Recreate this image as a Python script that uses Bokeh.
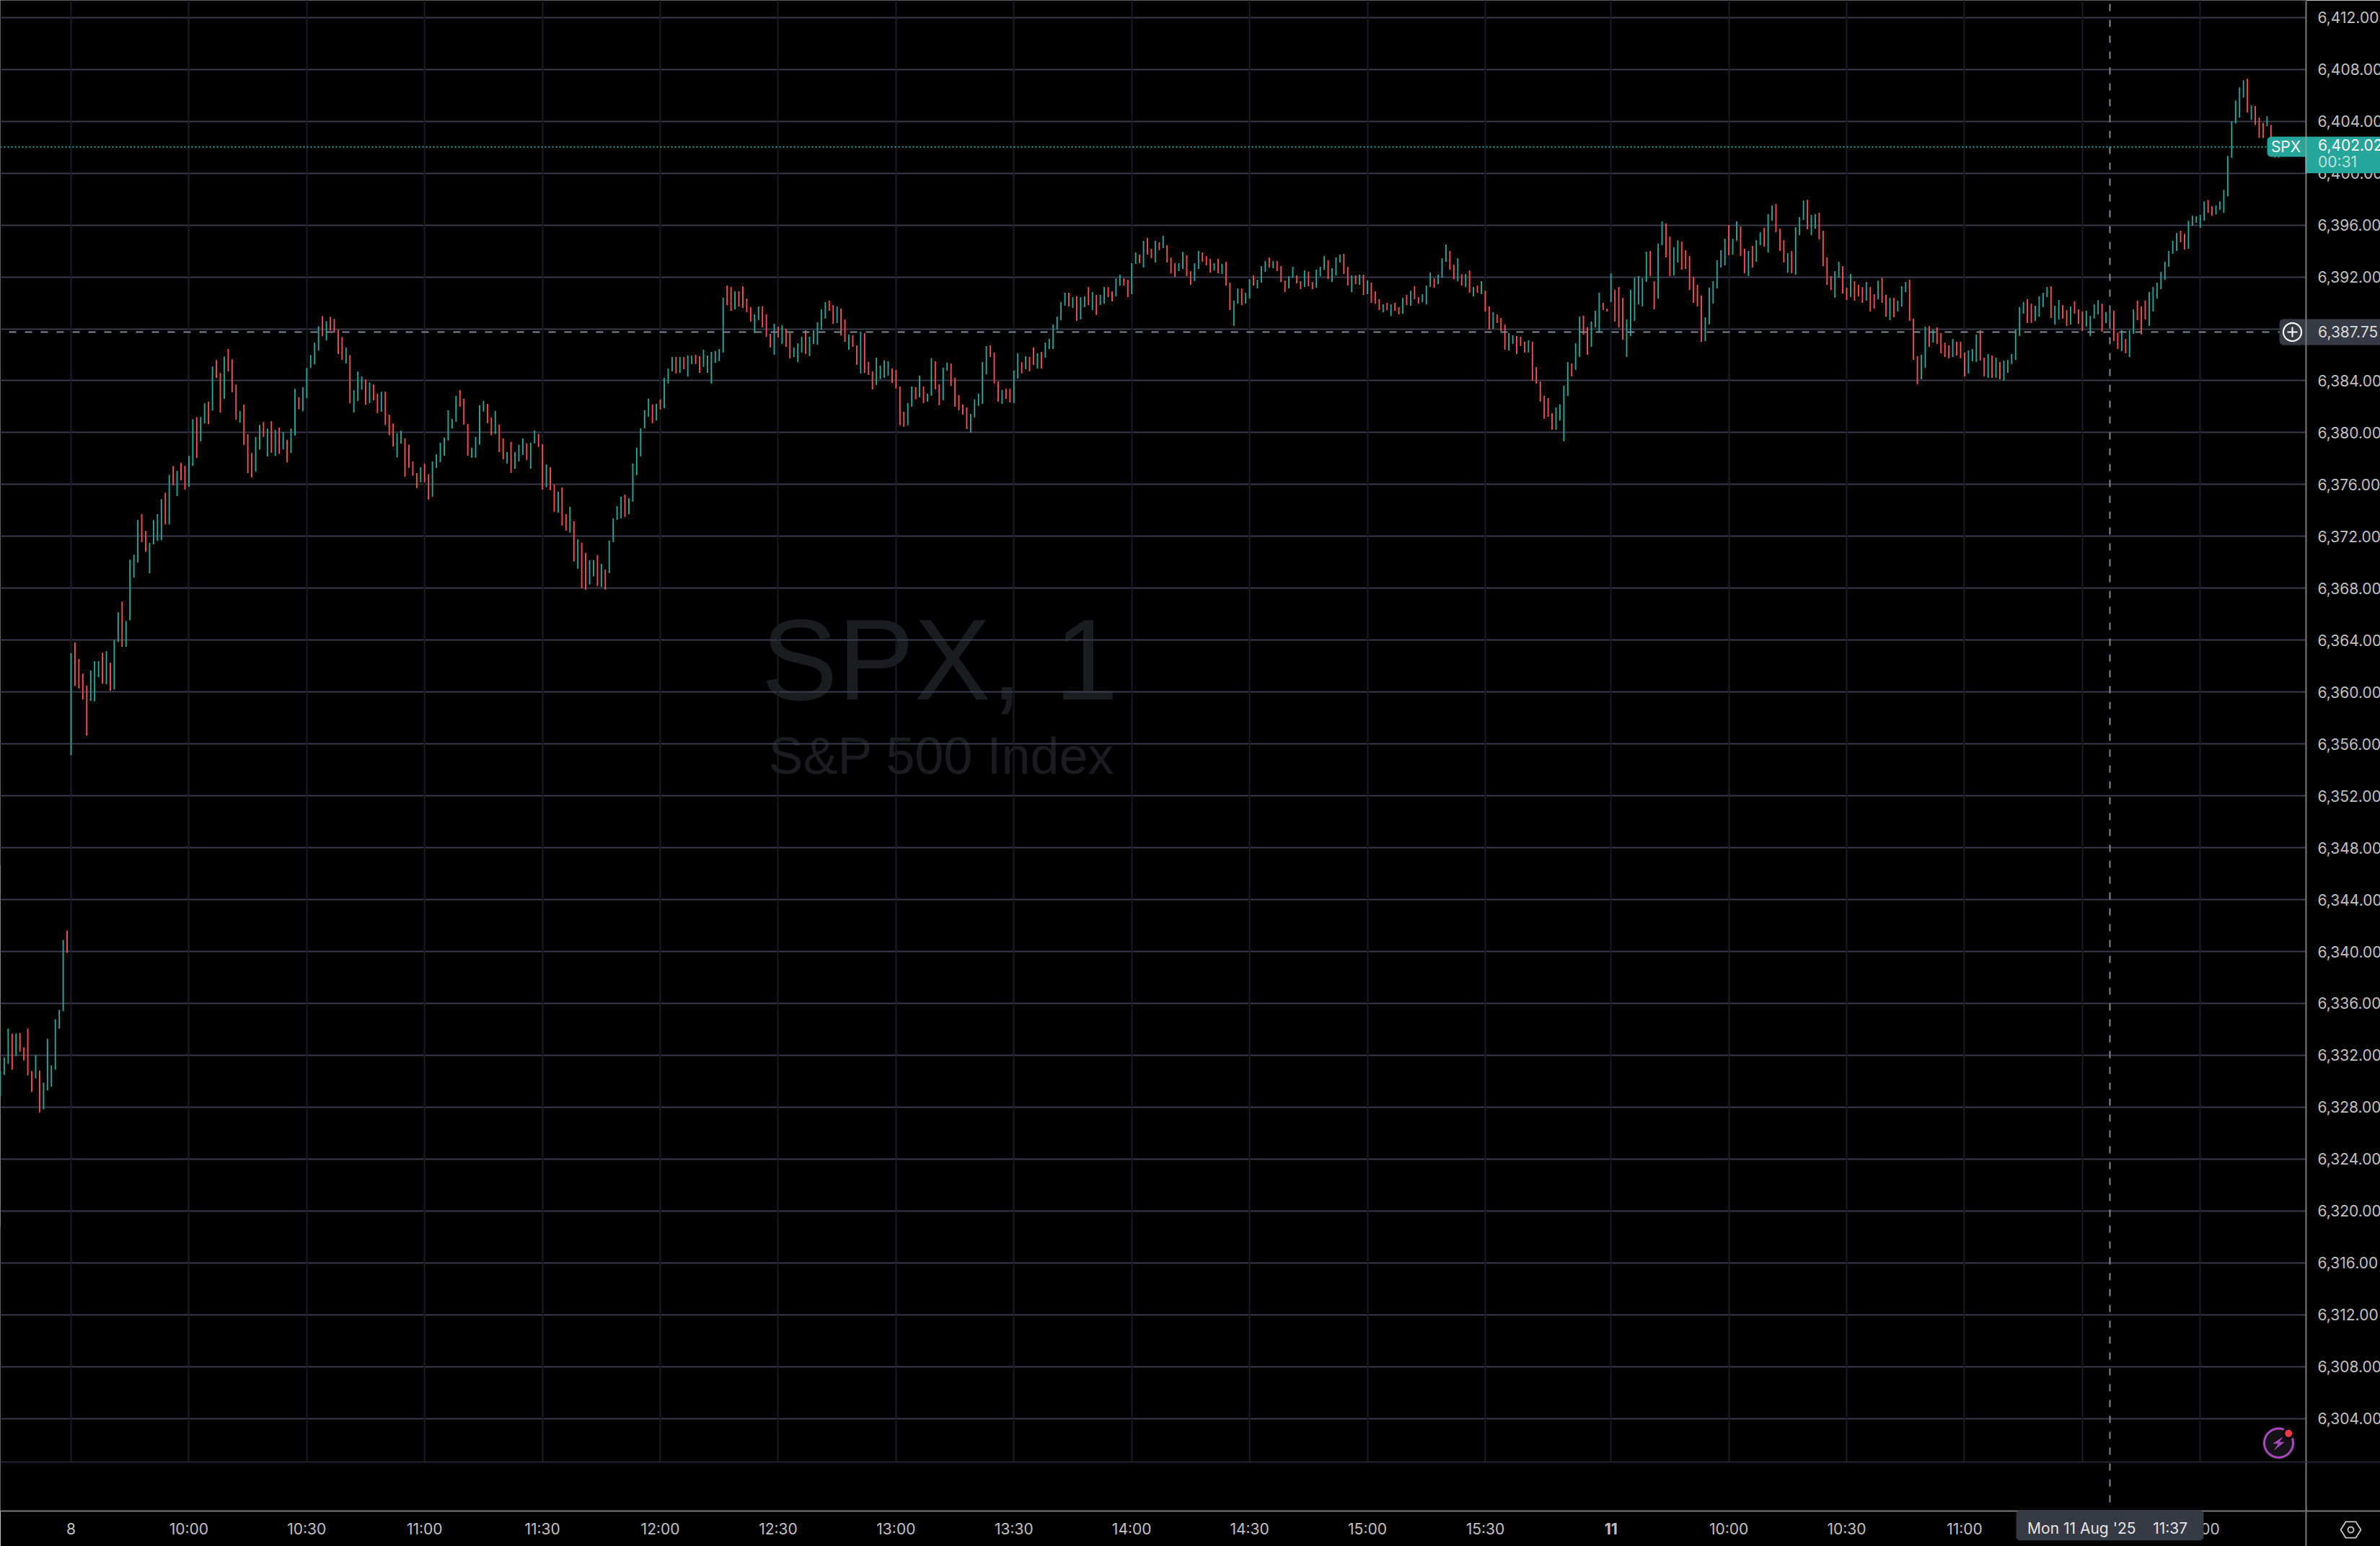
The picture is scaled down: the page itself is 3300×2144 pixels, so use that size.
import math
from bokeh.plotting import figure
from bokeh.layouts import column
from bokeh.embed import file_html
from bokeh.resources import INLINE
from bokeh.models import (ColumnDataSource, FixedTicker, Grid, Label, LinearAxis, PolyAnnotation, Range1d, Span)

FIRST_BAR = -18

high_a = [6330.78,6331.83,6334.06,6333.67,6333.67,6333.72,6332.61,6334.06,6330.78,6332.00,6330.83,6329.89,6333.28,6331.22,6334.78,6335.50,6340.89,6341.61]
low_a = [6328.83,6330.50,6331.33,6330.89,6331.94,6332.28,6331.61,6330.44,6329.17,6330.22,6327.61,6327.83,6329.28,6329.56,6330.89,6334.06,6335.39,6339.89]
dir_a = "uuududdddud" "uuuuuu" "d"

high_b = [6362.99,6363.83,6362.54,6361.42,6360.49,6361.65,6362.38,6362.38,6363.03,6363.15,
6362.26,6364.03,6366.14,6366.98,6365.48,6370.20,6370.59,6373.26,6373.71,6372.42,
6371.49,6373.26,6373.71,6374.87,6375.37,6376.75,6377.43,6377.05,6377.66,6377.43,
6378.20,6381.04,6381.20,6381.20,6382.26,6382.38,6385.10,6385.60,6384.60,6385.87,
6386.44,6385.64,6383.71,6381.65,6382.15,6379.88,6378.43,6379.66,6380.59,6380.81,
6380.31,6380.88,6380.20,6380.38,6380.04,6379.43,6380.31,6383.37,6382.72,6383.49,
6384.98,6385.98,6386.93,6388.20,6388.98,6388.59,6388.93,6388.77,6387.93,6387.37,
6386.55,6385.98,6383.26,6384.71,6384.33,6384.10,6383.87,6383.71,6382.99,6383.15,
6383.15,6381.38,6380.70,6379.93,6380.15]
low_b = [6355.14,6360.49,6360.27,6359.43,6356.64,6359.32,6359.27,6361.15,6360.65,6360.59,
6360.09,6360.20,6363.87,6363.49,6363.49,6365.53,6368.82,6369.97,6371.54,6370.81,
6369.16,6371.38,6371.65,6371.70,6372.92,6372.92,6375.94,6375.10,6376.32,6375.60,
6375.82,6377.43,6378.05,6379.32,6380.70,6380.65,6381.70,6384.21,6381.54,6382.60,
6384.71,6383.10,6380.99,6380.77,6379.04,6376.87,6376.55,6376.98,6378.70,6379.66,
6378.16,6378.43,6378.20,6378.36,6378.70,6377.71,6378.43,6379.77,6381.81,6381.65,
6382.65,6384.98,6385.26,6386.32,6387.43,6387.09,6387.86,6387.71,6386.05,6385.60,
6385.32,6382.26,6381.54,6382.42,6383.31,6382.15,6382.26,6382.49,6381.49,6381.61,
6380.59,6379.81,6378.93,6378.09,6379.16]
dir_b = "udddduuudu" "duuduuuudd" "uuuudududd" "uuduududdu" "ddduddduud" "udududuudu" "uuuududddd" "uduuududdu" "ddduu"

high_c = [6379.56,6379.06,6377.78,6376.89,6377.33,
6377.61,6376.78,6377.78,6378.33,6379.22,6379.61,6381.72,6381.06,6382.83,6383.28,
6382.61,6380.67,6378.83,6379.67,6382.11,6382.44,6382.22,6381.17,6381.67,6380.61,
6379.56,6378.50,6379.28,6378.50,6379.06,6379.56,6379.17,6379.22,6380.17,6379.89,
6379.11,6377.56,6377.33,6376.00,6375.44,6375.78,6373.72,6374.28,6373.17,6371.78,
6371.50,6370.72,6370.17,6370.17,6370.56,6369.89,6369.44,6371.67,6373.39,6374.33,
6375.06,6375.22,6374.94,6377.61,6378.83,6380.33,6381.72,6382.61,6382.17,6382.22,
6382.56,6384.22,6384.94,6385.83,6385.83,6385.83,6385.83,6385.94,6385.94,6386.00,
6385.89,6386.39,6385.94,6386.22,6386.28,6386.44]
low_c = [6376.61,6377.28,6376.67,6375.72,6376.17,
6376.17,6374.83,6375.06,6377.28,6377.72,6378.22,6379.39,6380.33,6380.83,6382.00,
6380.61,6378.22,6378.06,6378.06,6379.06,6381.61,6380.72,6379.78,6379.89,6378.50,
6377.94,6377.61,6376.89,6377.22,6377.78,6378.28,6377.89,6377.22,6379.17,6378.89,
6375.61,6375.78,6375.56,6373.89,6373.83,6372.83,6372.44,6372.28,6370.06,6369.50,
6368.00,6367.89,6368.28,6368.94,6368.17,6368.11,6367.89,6369.17,6371.56,6373.28,
6373.39,6373.50,6373.72,6374.67,6376.72,6378.17,6380.33,6381.22,6380.72,6380.94,
6381.78,6381.89,6383.78,6384.72,6384.56,6384.61,6384.89,6384.33,6385.28,6385.28,
6384.61,6385.06,6384.61,6383.78,6385.39,6385.50]
dir_c = "ddddu" "dduuuuuuud" "dduuuuddud" "duduuuduud" "duddudd" "udu" "dduududuuu" "uduuuuuudu" "duuududuud" "duuuuu"

high_d = [6390.39,6391.33,6391.22,6390.89,
6390.89,6391.28,6390.33,6389.67,6389.11,6389.72,6389.72,6389.11,6387.61,6388.39,
6388.17,6388.28,6388.00,6387.67,6386.56,6386.89,6387.39,6387.89,6387.39,6387.89,
6388.50,6389.50,6390.06,6390.17,6389.83,6389.72,6389.56,6388.72,6387.56,6387.50,
6386.72,6387.78,6387.67,6385.44,6384.72,6385.78,6385.17,6385.56,6385.50,6384.94,
6384.83,6383.56,6381.61,6382.28,6383.56,6383.50,6384.39,6383.56,6383.00,6385.72,
6385.50,6383.72,6385.00,6385.39,6385.33,6384.22,6382.89,6382.17,6381.94,6381.44,
6382.56,6383.00,6385.44,6386.67,6386.72,6386.17,6383.94,6383.28,6383.39,6383.39,
6384.78,6386.11,6385.44,6385.89,6385.83,6386.56,6386.11,6386.22,6386.94,6387.22,
6388.33,6388.94,6390.06,6390.78,6390.78,6390.44,6390.50,6390.44,6390.50,6391.22,
6390.83,6390.61,6390.61,6391.22,6391.22]
low_d = [6386.17,6389.83,6389.39,6389.50,
6389.72,6389.61,6389.28,6388.56,6387.67,6388.67,6388.11,6387.39,6386.56,6386.00,
6387.33,6386.83,6386.61,6385.72,6385.83,6385.44,6386.17,6386.06,6385.89,6386.83,
6386.78,6387.94,6388.78,6389.39,6388.39,6388.44,6387.50,6387.00,6386.39,6386.61,
6385.22,6384.56,6384.61,6384.44,6383.33,6383.67,6384.11,6384.22,6384.39,6383.83,
6383.39,6380.56,6380.44,6380.56,6382.00,6382.56,6382.72,6382.28,6382.39,6382.83,
6383.33,6382.11,6382.50,6384.78,6383.61,6382.00,6381.72,6381.39,6380.28,6380.00,
6381.17,6382.06,6382.22,6384.50,6385.83,6383.78,6382.39,6382.22,6382.61,6382.33,
6382.28,6384.17,6384.56,6384.89,6384.72,6385.22,6384.94,6384.94,6385.78,6386.44,
6386.44,6387.94,6388.67,6389.78,6389.72,6389.61,6388.61,6388.72,6389.67,6389.83,
6389.44,6389.06,6389.83,6389.94,6390.44]
dir_d = "uddu" "dddduudddu" "dudduuuduu" "uuudduddud" "duddduuuud" "ddduududuu" "dduudddddu" "uuuudddudd" "uududduduu" "uuuududuud" "uduud"

high_e = [6390.89,6391.89,6392.17,6391.89,6391.78,
6393.06,6393.89,6393.72,6394.78,6395.00,6394.17,6394.78,6394.67,6395.17,6394.44,
6393.50,6393.06,6393.06,6393.94,6393.67,6392.44,6393.06,6394.00,6393.89,6393.61,
6393.39,6393.06,6393.39,6393.00,6393.17,6391.56,6390.17,6391.11,6391.11,6390.78,
6391.83,6392.11,6391.78,6392.83,6393.22,6393.50,6393.22,6393.22,6392.83,6391.72,
6392.06,6392.78,6392.11,6391.67,6392.50,6392.39,6391.61,6392.56,6392.78,6393.61,
6393.28,6392.67,6393.50,6393.72,6393.78,6392.78,6392.11,6392.11,6392.17,6392.17,
6391.72,6391.56,6390.89,6390.28,6389.89,6390.00,6389.89,6390.00,6389.67,6390.39,
6390.61,6390.94,6391.28,6390.44,6390.67,6391.33,6392.33,6391.89,6392.17,6393.44,
6394.50,6394.00,6392.94,6393.44,6392.22,6392.22,6392.50,6391.22,6391.33,6391.67,
6390.94,6389.72,6389.28,6389.11,6388.83,6388.33,6387.67,6387.50,6387.44,6387.39,
6387.00,6387.11,6387.00,6385.06,6383.94,6382.83,6382.67]
low_e = [6390.11,6390.50,6391.33,6391.33,6390.44,
6390.67,6393.00,6393.06,6392.72,6393.72,6393.44,6393.11,6394.06,6394.22,6393.11,
6392.28,6392.00,6392.44,6392.61,6392.06,6391.39,6391.67,6392.61,6393.17,6392.89,
6392.33,6392.50,6392.28,6392.22,6391.33,6389.44,6388.22,6389.94,6389.83,6389.94,
6390.33,6391.33,6391.11,6391.56,6392.39,6392.72,6392.67,6392.44,6391.61,6390.83,
6391.11,6391.94,6391.50,6391.06,6391.22,6391.28,6391.06,6391.17,6392.06,6392.56,
6391.83,6391.61,6392.11,6393.11,6392.22,6391.33,6390.83,6391.44,6391.39,6390.61,
6390.67,6390.00,6389.94,6389.44,6389.28,6389.44,6389.00,6389.39,6389.11,6389.17,
6389.83,6389.78,6390.28,6389.94,6390.06,6389.89,6391.22,6391.17,6391.44,6391.94,
6393.17,6392.56,6391.83,6391.67,6391.33,6391.22,6390.78,6390.50,6390.78,6390.67,
6389.33,6387.94,6388.00,6388.44,6387.83,6386.39,6386.33,6386.83,6386.06,6386.67,
6386.17,6386.17,6384.00,6383.78,6382.39,6381.06,6381.22]
dir_e = "duudd" "uududdudud" "dduudduudd" "dududduudu" "uduuududdd" "uuddudduuu" "duuuddudud" "udddududdu" "dudduuuduu" "uddudududu" "dduddduudd" "duddddd"

high_f = [6381.50,6381.94,6382.17,
6383.61,6385.44,6385.33,6386.89,6388.94,6389.00,6388.11,6388.56,6389.39,6390.78,
6390.00,6389.56,6392.28,6391.00,6391.22,6390.39,6388.72,6391.00,6391.94,6392.06,
6391.89,6393.94,6394.00,6391.67,6394.56,6396.28,6396.11,6395.11,6394.28,6394.83,
6394.72,6394.06,6393.61,6392.00,6391.39,6390.56,6388.89,6391.17,6391.67,6393.28,
6394.06,6394.94,6396.00,6394.94,6396.28,6395.89,6394.17,6394.00,6394.39,6394.83,
6395.44,6395.78,6396.83,6397.50,6397.61,6395.72,6394.83,6393.83,6394.00,6395.83,
6396.61,6397.89,6397.94,6396.78,6396.83,6396.94,6395.56,6393.50,6392.06,6392.44,
6393.17,6392.83,6391.17,6392.22,6391.67,6391.39,6391.22,6391.61,6391.22,6390.67,
6391.72,6391.94,6390.61,6390.39,6390.39,6390.17,6391.28,6391.61,6391.78,6388.78,
6385.89,6386.00,6388.17,6388.22,6387.94,6388.11,6387.67,6386.94]
low_f = [6380.22,6380.22,6380.94,
6379.33,6382.83,6384.33,6384.83,6385.83,6387.56,6386.00,6386.61,6388.11,6387.72,
6389.44,6389.33,6390.06,6388.56,6388.11,6387.17,6385.83,6387.44,6388.61,6389.89,
6389.72,6391.61,6392.06,6389.50,6390.33,6394.44,6393.50,6392.06,6392.11,6393.11,
6392.56,6392.61,6391.00,6390.00,6389.72,6387.00,6387.06,6388.33,6389.94,6391.11,
6392.72,6392.89,6393.67,6393.72,6394.78,6393.61,6392.28,6392.06,6392.72,6393.17,
6394.44,6394.33,6393.89,6396.33,6395.44,6394.00,6393.11,6392.33,6392.28,6392.17,
6395.22,6396.39,6395.67,6395.22,6395.72,6394.89,6392.83,6391.39,6391.00,6390.39,
6391.94,6390.72,6390.22,6390.44,6390.17,6390.50,6390.00,6390.17,6389.33,6389.56,
6390.28,6390.00,6388.94,6388.67,6388.89,6389.33,6389.72,6390.83,6388.61,6385.61,
6383.72,6384.11,6385.00,6386.61,6386.94,6386.83,6386.11,6385.83]
dir_f = "duu" "uuduudduuu" "dduddduuuu" "uudduudduu" "dddddduuuu" "uuduuddudu" "uduuddd" "udu" "uuduu" "ddddu" "uddud" "ddudd" "uddud" "uuudd" "duudu" "ddd"

high_g = [6386.72,6387.22,
6387.00,6387.00,6386.17,6386.33,6386.44,6387.56,6387.89,6385.78,6386.06,6385.94,
6385.78,6385.44,6385.56,6385.61,6386.06,6387.94,6389.67,6390.06,6390.28,6389.94,
6389.78,6390.50,6390.78,6391.22,6391.28,6389.78,6390.22,6389.83,6389.44,6389.72,
6390.11,6389.50,6389.33,6389.39,6389.00,6389.89,6390.22,6389.94,6389.28,6389.28,
6389.39,6387.72,6387.89,6387.22,6387.89,6389.50,6390.17,6389.72,6390.17,6390.83,
6391.22,6391.56,6392.39,6393.17,6394.00,6394.78,6395.39,6395.56,6395.33,6396.33,
6396.72,6396.67,6396.78,6397.83,6397.94,6397.44,6397.50,6397.83,6398.72,6401.33,
6404.00,6405.61,6406.61,6407.17,6407.28,6405.22,6405.17,6404.28,6403.89,6404.39,
6403.72,6402.80,6402.20]
low_g = [6385.72,6385.83,
6385.94,6385.72,6384.33,6384.56,6385.50,6385.44,6385.56,6384.33,6384.22,6384.22,
6384.22,6384.11,6384.00,6384.61,6385.28,6385.61,6387.44,6389.17,6388.44,6388.44,
6388.61,6388.94,6389.67,6390.44,6388.83,6388.33,6388.72,6388.78,6388.22,6388.33,
6389.17,6388.39,6387.83,6388.17,6387.44,6388.78,6389.11,6387.78,6388.44,6388.56,
6387.06,6386.44,6386.28,6386.11,6385.83,6387.61,6388.67,6387.56,6388.72,6388.22,
6389.33,6390.33,6391.06,6391.78,6392.78,6393.78,6394.00,6394.67,6394.11,6394.17,
6395.94,6396.17,6395.78,6396.33,6396.94,6396.72,6396.83,6397.17,6396.94,6398.22,
6401.17,6403.83,6404.28,6405.83,6404.67,6404.11,6403.72,6402.72,6402.72,6403.61,
6402.20,6401.20,6401.20]
dir_g = "du" "ddduu" "uddud" "uduuu" "uuudd" "uuuud" "uuddu" "ddduu" "uuduu" "ddudu" "udddu" "uuuuu" "uuddu" "uuuud" "duuuu" "uuuud" "udddu" "ddd"

price_ticks = list(range(6304, 6416, 4))
time_ticks = [0, 30, 60, 90, 120, 150, 180, 210, 240, 270, 300, 330, 360, 392, 422, 452, 482, 512, 542]
time_labels = ["8", "10:00", "10:30", "11:00", "11:30", "12:00", "12:30", "13:00", "13:30", "14:00", "14:30", "15:00", "15:30", " ", "10:00", "10:30", "11:00", "11:30", "12:00"]
last_price = 6402.02
cross_price = 6387.75
cross_bar = 519

highs = high_a + high_b + high_c + high_d + high_e + high_f + high_g
lows = low_a + low_b + low_c + low_d + low_e + low_f + low_g
dirs = dir_a + dir_b + dir_c + dir_d + dir_e + dir_f + dir_g
n = len(highs)
bars = list(range(FIRST_BAR, FIRST_BAR + n))
UP, DOWN = "#26a69a", "#f44f4f"
src = ColumnDataSource(dict(x=bars, hi=highs, lo=lows, c=[UP if d == "u" else DOWN for d in dirs]))

W, H = 3300, 2144
FW, FH = 3197, 2095
PX_BAR, PX_PT = 5.447, 17.99
x0 = -98 / PX_BAR
x1 = x0 + FW / PX_BAR
y1 = 6408 + 95.7 / PX_PT
y0 = y1 - FH / PX_PT

p = figure(width=W, height=H, frame_width=FW, frame_height=FH, x_range=Range1d(x0, x1), y_range=Range1d(y0, y1), output_backend="svg",
           toolbar_location=None, x_axis_location=None, y_axis_location=None, background_fill_color="#000000",
           border_fill_color="#000000", outline_line_color=None, min_border_left=0, min_border_top=0,
           min_border_right=W - FW, min_border_bottom=H - FH, margin=0)
p.xgrid.visible = False
p.ygrid.visible = False

# transparent sheet over the whole page for the tags that lie outside the plot frame
o = figure(width=W, height=H, frame_width=W, frame_height=H, x_range=Range1d(0, W), y_range=Range1d(H, 0), output_backend="svg",
           toolbar_location=None, x_axis_location=None, y_axis_location=None, background_fill_alpha=0.0,
           border_fill_alpha=0.0, outline_line_color=None, min_border=0, margin=0,
           styles={"position": "absolute", "left": "0px", "top": "0px"})
o.xgrid.visible = False
o.ygrid.visible = False

UI_FONT = "Inter"
AXTXT = "#c0c0c0"
FS = "21px"
ax_r = LinearAxis(ticker=FixedTicker(ticks=price_ticks), major_tick_line_color=None, minor_tick_line_color=None,
                  major_tick_out=0, major_tick_in=0, axis_line_color="#7a7a7a", axis_line_width=2,
                  major_label_standoff=16, major_label_text_color=AXTXT, major_label_text_font=UI_FONT,
                  major_label_text_font_size=FS, major_label_text_align="left",
                  major_label_overrides={t: f"{t:,.2f}" for t in price_ticks})
ax_b = LinearAxis(ticker=FixedTicker(ticks=time_ticks), major_tick_line_color=None, minor_tick_line_color=None,
                  major_tick_out=0, major_tick_in=0, axis_line_color="#7a7a7a", axis_line_width=2,
                  major_label_standoff=12, major_label_text_color=AXTXT, major_label_text_font=UI_FONT,
                  major_label_text_font_size=FS,
                  major_label_overrides=dict(zip(time_ticks, time_labels)))
p.add_layout(ax_r, "right")
p.add_layout(ax_b, "below")
p.add_layout(Grid(dimension=1, ticker=FixedTicker(ticks=price_ticks), grid_line_color="#383c4d", grid_line_width=2))
p.add_layout(Grid(dimension=0, ticker=FixedTicker(ticks=time_ticks), grid_line_color="#191c28", grid_line_width=2))

def poly(xs, ys, fill=None, line=None, lw=1.0, level="overlay", fig=o):
    a = PolyAnnotation(xs=list(xs), ys=list(ys), xs_units="canvas", ys_units="canvas", fill_color=fill, fill_alpha=1.0 if fill else 0.0,
                       line_color=line, line_alpha=1.0, line_width=lw, level=level)
    fig.add_layout(a)

def rect(xa, ya, xb, yb, fill, level="overlay", fig=o):
    poly([xa, xb, xb, xa], [ya, ya, yb, yb], fill=fill, level=level, fig=fig)

def rounded(xa, ya, xb, yb, r, fill, right_r=0):
    xs, ys = [], []
    for cx, cy, a0, rr in ((xa + r, ya + r, 180, r), (xb - right_r, ya + right_r, 270, right_r),
                           (xb - right_r, yb - right_r, 0, right_r), (xa + r, yb - r, 90, r)):
        for k in range(7):
            t = math.radians(a0 + 15 * k)
            xs.append(cx + rr * math.cos(t)); ys.append(cy + rr * math.sin(t))
    poly(xs, ys, fill=fill)

def circle(cx, cy, r, fill=None, line=None, lw=1.0):
    ts = [2 * math.pi * k / 48 for k in range(48)]
    poly([cx + r * math.cos(t) for t in ts], [cy + r * math.sin(t) for t in ts], fill=fill, line=line, lw=lw)

def label(px, py, s, color="#d1d4dc", size=21, font=UI_FONT, align="left", base="middle", style="normal", level="overlay", fig=o):
    fig.add_layout(Label(x=px, y=py, x_units="canvas", y_units="canvas", text=s, text_color=color, text_font_size=f"{size}px", text_font=font,
                       text_align=align, text_baseline=base, text_font_style=style, level=level))

# watermark
label(1055, 914.7, "SPX, 1", color="#1b1c20", size=159, font="Liberation Sans", base="alphabetic", level="image", fig=p)
label(1065, 1047, "S&P 500 Index", color="#1b1c20", size=72, font="Liberation Sans", base="alphabetic", level="image", fig=p)

# area under the chart has no vertical rules
rect(0, 2027, FW, 2095, "#000000", level="underlay", fig=p)

p.segment("x", "lo", "x", "hi", source=src, line_color="c", line_width=1.9, line_cap="butt")

p.add_layout(Span(location=cross_bar, dimension="height", line_color="#7d8796", line_width=2, line_dash="10 12", line_dash_offset=17))
p.add_layout(Span(location=cross_price, dimension="width", line_color="#7d8796", line_width=2, line_dash="10 12", line_dash_offset=10))
p.add_layout(Span(location=last_price, dimension="width", line_color="#26a69a", line_width=2, line_dash="2 3"))

rect(0, 0, FW, 1.5, "#000000")
rect(0, 0, 0.8, 1200, "#000000")
rect(0, 1700, 0.8, 2027, "#000000")
rect(0, 2026.2, W, 2027.8, "#2e3240")
rect(FW, 2094, W, 2096, "#7a7a7a")
rect(FW - 1, 2096, FW + 1, H, "#7a7a7a")

# last price tags
rounded(3143, 189, FW, 217, 6, "#26a69a")
rect(FW, 189, W, 239.7, "#26a69a")
rect(FW - 1, 189, FW + 1, 240, "#7fa8a3")
label(3169, 203, "SPX", color="#ffffff", align="center")
label(3213.6, 200.7, "6,402.02", color="#ffffff")
label(3213.6, 224, "00:31", color="#b5e2dc")

# crosshair tags
rounded(3160, 442, W, 478, 6, "#363a45")
rect(FW - 1, 442, FW + 1, 478, "#7a7a7a")
circle(3178, 460, 12.5, line="#ffffff", lw=2.2)
rect(3171, 459, 3185, 461, "#ffffff")
rect(3177, 453, 3179, 467, "#ffffff")
label(3213.6, 459, "6,387.75", color="#d8d8d8")
rounded(2795, 2094, 3055, 2135.7, 5, "#363a45", right_r=5)
label(2810.6, 2119, "Mon 11 Aug '25\u00a0\u00a0\u00a0\u00a011:37", color="#e4e4e4")
label(98 + PX_BAR * 392, 2119, "11", color=AXTXT, align="center", style="bold")

# session-break icon
circle(3159, 2000.7, 23, fill="#131316")
circle(3159, 2000.7, 20, fill="#131316", line="#ab47bc", lw=3)
poly([3165, 3150.7, 3158.3, 3152.7, 3167.3, 3160], [1991.7, 2001.7, 2001.7, 2010.7, 1999.3, 1999.3], fill="#ab47bc")
circle(3172.7, 1987.3, 8.5, fill="#0b0b0d")
circle(3172.7, 1987.3, 5, fill="#f23645")

# settings icon
hx = [3259 + 14 * math.cos(math.radians(60 * k)) for k in range(6)]
hy = [2121 + 12.8 * math.sin(math.radians(60 * k)) for k in range(6)]
poly(hx, hy, line="#c8c8c8", lw=1.8)
circle(3259, 2121, 4, line="#c8c8c8", lw=1.8)

root = column(p, o, spacing=0, margin=0)
open("out.html", "w").write(file_html(root, INLINE))
